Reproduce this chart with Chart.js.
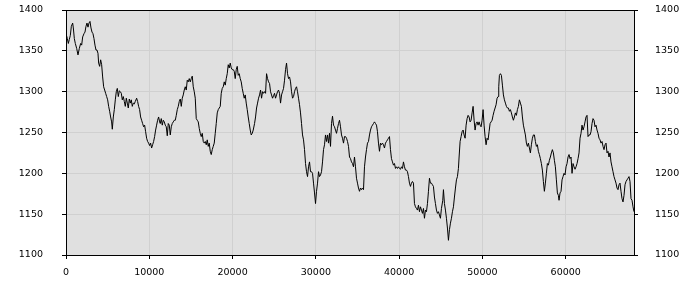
<!DOCTYPE html>
<html lang="en">
<head>
    <meta charset="UTF-8">
    <title>Price history</title>
    <script src="https://cdn.jsdelivr.net/npm/chart.js"></script>
    <style>
        html, body { margin: 0; padding: 0; background: #fff; }
        #wrap { width: 700px; height: 300px; }
    </style>
</head>
<body>
    <div id="wrap"><canvas id="priceChart"></canvas></div>

    <script>
        // x positions of the samples
        const xValues = [
            0,160,280,400,520,640,800,880,1000,1120,1280,1440,1600,1760,1880,2000,2160,2280,2400,2520,2640,2760,2880,3000,3120,3240,3360,3480,3600,3720,3840,3920,4040,4160,4280,4400,4520,4640,4760,4880,5000,5120,5240,5360,5480,5560,5680,5800,5920,6040,6160,6280,6400,6520,6640,6760,6880,7000,7120,7240,7360,7480,7600,7720,7840,7960,8080,8200,8320,8480,8600,8720,8840,8960,9080,9200,9320,9440,9560,9680,9800,9920,10040,10160,10280,10400,10520,10640,10760,10880,11000,11120,11240,
            11320,11440,11560,11680,11800,11920,12040,12160,12280,12400,12520,12640,12760,12880,13000,13120,13240,13360,13480,13600,13720,13840,13960,14080,14200,14320,14440,14560,14680,14800,14920,15040,15160,15280,15400,15520,15640,15760,15880,16000,16120,16240,16360,16480,16600,16720,16840,16960,17080,17200,17320,17440,17560,17680,17800,17920,18040,18160,18280,18400,18520,18640,18760,18880,19000,19120,19240,19360,19480,19600,19720,19840,19960,20080,20200,20320,20440,20560,20680,20800,20920,21040,21160,21280,21400,21520,21640,21760,21880,22000,22120,22240,22360,22480,
            22640,22760,22880,23000,23120,23240,23360,23480,23600,23720,23840,23960,24080,24200,24320,24440,24560,24680,24800,24920,25040,25160,25280,25400,25520,25640,25760,25880,26000,26120,26240,26360,26480,26600,26720,26840,26960,27080,27200,27320,27440,27560,27680,27800,27920,28040,28160,28280,28400,28520,28640,28760,28880,29000,29120,29240,29360,29480,29600,29720,29840,29960,30080,30200,30320,30440,30560,30680,30800,30920,31040,31160,31280,31400,31520,31640,31760,31880,32000,32120,32240,32360,32480,32600,32720,32840,32960,33080,33200,33320,33440,33560,33680,33800,
            33920,34040,34160,34280,34400,34520,34640,34760,34880,35000,35120,35240,35360,35480,35600,35720,35840,35960,36080,36200,36320,36440,36560,36680,36800,36920,37040,37160,37280,37400,37520,37640,37760,37880,38000,38120,38240,38360,38480,38600,38720,38840,38960,39080,39200,39320,39440,39560,39680,39800,39920,40040,40160,40280,40400,40520,40640,40760,40880,41000,41120,41240,41360,41480,41600,41720,41840,41960,42080,42200,42320,42440,42560,42680,42800,42920,43040,43160,43280,43400,43520,43640,43760,43880,44000,44120,44240,44360,44480,44600,44720,44840,44960,45080,
            45240,45320,45440,45560,45680,45800,45920,46040,46160,46280,46400,46520,46640,46760,46880,47000,47120,47200,47320,47440,47560,47680,47800,47920,48040,48160,48280,48400,48520,48640,48760,48880,49000,49120,49240,49360,49480,49600,49720,49840,49960,50080,50200,50320,50440,50560,50680,50800,50920,51040,51160,51280,51400,51520,51640,51760,51880,51960,52040,52160,52280,52400,52520,52640,52760,52880,53000,53120,53240,53360,53480,53600,53720,53840,53960,54080,54200,54320,54440,54560,54680,54800,54920,55040,55160,55280,55400,55520,55640,55760,55880,56000,56120,56240,56360,
            56480,56600,56720,56840,56960,57080,57200,57320,57440,57560,57680,57800,57920,58040,58160,58280,58400,58520,58640,58760,58880,59000,59120,59200,59320,59440,59560,59680,59800,59920,60040,60160,60280,60400,60520,60640,60760,60880,61000,61120,61240,61360,61480,61600,61720,61840,61960,62080,62200,62320,62440,62560,62680,62800,62920,63040,63160,63280,63400,63520,63640,63760,63880,64000,64120,64240,64360,64480,64600,64720,64840,64960,65080,65200,65320,65440,65560,65680,65800,65920,66040,66160,66280,66400,66520,66640,66760,66880,67000,67120,67240,67360,67480,67600,67720,67840,67960,68080,68200
        ];

        const prices = [
            1371,1365,1359,1364,1369,1380,1384,1378,1365,1359,1353,1345,1353,1359,1357,1367,1371,1373,1380,1384,1379,1384,1386,1378,1373,1371,1365,1357,1351,1351,1347,1335,1331,1339,1333,1318,1306,1302,1298,1294,1290,1282,1276,1269,1263,1254,1269,1278,1290,1300,1304,1294,1301,1300,1298,1290,1294,1288,1282,1292,1286,1280,1291,1286,1290,1282,1286,1285,1288,1292,1288,1282,1278,1269,1265,1261,1257,1259,1251,1243,1239,1237,1234,1237,1231,1235,1239,1245,1253,1259,1265,1269,1263,
            1261,1267,1259,1265,1263,1259,1257,1246,1261,1259,1247,1257,1261,1263,1265,1265,1271,1278,1282,1288,1291,1282,1292,1296,1302,1306,1302,1314,1312,1316,1312,1316,1319,1306,1300,1292,1267,1265,1263,1255,1249,1245,1249,1239,1237,1239,1235,1241,1233,1237,1227,1223,1229,1233,1237,1249,1261,1274,1278,1280,1282,1298,1304,1306,1312,1308,1316,1322,1333,1329,1335,1329,1327,1327,1325,1316,1327,1331,1320,1322,1316,1312,1304,1298,1292,1296,1286,1278,1269,1261,1253,1247,1249,1253,
            1261,1269,1280,1286,1292,1296,1302,1292,1300,1298,1300,1298,1322,1316,1312,1310,1300,1296,1292,1295,1298,1292,1296,1300,1302,1298,1286,1296,1300,1304,1314,1327,1335,1322,1316,1318,1312,1300,1292,1294,1300,1304,1306,1300,1292,1284,1274,1261,1247,1241,1229,1212,1202,1196,1208,1214,1202,1202,1200,1188,1176,1163,1178,1188,1202,1196,1198,1202,1214,1229,1235,1247,1239,1247,1237,1249,1233,1261,1270,1259,1257,1253,1249,1255,1261,1265,1257,1247,1243,1237,1245,1245,1243,1239,
            1233,1220,1218,1214,1212,1208,1220,1208,1194,1188,1182,1178,1182,1180,1182,1180,1208,1220,1229,1237,1239,1247,1253,1257,1259,1261,1263,1261,1259,1251,1237,1227,1237,1235,1237,1235,1231,1237,1239,1241,1243,1245,1229,1218,1214,1210,1212,1206,1208,1206,1208,1206,1205,1208,1206,1214,1208,1204,1204,1202,1196,1188,1184,1188,1190,1188,1163,1159,1157,1155,1161,1153,1159,1155,1151,1157,1145,1155,1153,1163,1178,1194,1188,1188,1186,1184,1171,1163,1155,1151,1153,1149,1145,1157,
            1167,1180,1163,1155,1145,1133,1118,1131,1139,1145,1153,1159,1171,1182,1192,1196,1206,1220,1239,1245,1251,1253,1247,1243,1259,1267,1271,1269,1263,1265,1274,1282,1265,1253,1261,1263,1259,1263,1259,1257,1265,1278,1259,1245,1235,1243,1241,1251,1261,1263,1265,1271,1276,1280,1284,1292,1294,1306,1320,1322,1320,1308,1296,1290,1286,1282,1280,1280,1276,1278,1274,1269,1265,1269,1274,1271,1278,1282,1290,1286,1282,1269,1259,1253,1247,1237,1233,1237,1231,1225,1235,1243,1247,1247,1239,
            1233,1235,1227,1223,1218,1212,1204,1190,1178,1188,1200,1212,1210,1216,1220,1225,1229,1225,1216,1208,1192,1176,1173,1167,1176,1178,1192,1196,1200,1198,1208,1212,1220,1223,1218,1220,1200,1212,1208,1205,1208,1212,1218,1225,1243,1249,1259,1253,1257,1263,1269,1271,1245,1247,1247,1251,1261,1267,1265,1257,1259,1253,1249,1243,1241,1237,1239,1233,1229,1235,1237,1225,1227,1220,1225,1214,1208,1202,1196,1192,1188,1182,1180,1186,1188,1178,1169,1165,1173,1186,1190,1192,1194,1196,1190,1169,1167,1159,1153
        ];

        const xTicks = [0, 10000, 20000, 30000, 40000, 50000, 60000];
        const yTicks = [1100, 1150, 1200, 1250, 1300, 1350, 1400];
        const xMax = 68200;

        const points = xValues.map((x, i) => ({ x: x, y: prices[i] }));

        // grey plot background and black frame round the plot area
        const framePlugin = {
            id: 'frame',
            beforeDraw(chart) {
                const { ctx, chartArea: a } = chart;
                ctx.save();
                ctx.fillStyle = '#e0e0e0';
                ctx.fillRect(a.left, a.top, a.right - a.left, a.bottom - a.top);
                ctx.restore();
            },
            afterDraw(chart) {
                const { ctx, chartArea: a } = chart;
                ctx.save();
                ctx.strokeStyle = '#000';
                ctx.lineWidth = 1;
                ctx.strokeRect(Math.floor(a.left) + 0.5, Math.floor(a.top) + 0.5,
                    Math.round(a.right - a.left), Math.round(a.bottom - a.top));
                ctx.restore();
            }
        };

        const tickFont = { family: 'DejaVu Sans', size: 9.5 };
        const plain = v => String(v);

        // fixed side width; stop the tick padding from pushing the plot down
        const fitSide = s => {
            s.width = 66;
            s.paddingTop = 10;
            s.paddingBottom = 0;
        };

        new Chart(document.getElementById('priceChart'), {
            type: 'line',
            data: {
                datasets: [{
                    data: points,
                    borderColor: '#000',
                    borderWidth: 1,
                    pointRadius: 0,
                    tension: 0,
                    fill: false
                }]
            },
            options: {
                responsive: true,
                maintainAspectRatio: false,
                animation: false,
                events: [],
                layout: { padding: { top: 10 } },
                plugins: {
                    legend: { display: false },
                    tooltip: { enabled: false }
                },
                scales: {
                    x: {
                        type: 'linear',
                        min: 0,
                        max: xMax,
                        afterBuildTicks: s => { s.ticks = xTicks.map(v => ({ value: v })); },
                        afterFit: s => { s.height = 45; },
                        grid: { color: '#d0d0d0', tickColor: '#000', tickLength: 4 },
                        border: { display: false },
                        ticks: { color: '#000', font: tickFont, padding: 8, maxRotation: 0, callback: plain }
                    },
                    y: {
                        position: 'left',
                        min: 1100,
                        max: 1400,
                        afterBuildTicks: s => { s.ticks = yTicks.map(v => ({ value: v })); },
                        afterFit: fitSide,
                        grid: { color: '#d0d0d0', tickColor: '#000', tickLength: 4 },
                        border: { display: false },
                        ticks: { color: '#000', font: tickFont, padding: 19, callback: plain }
                    },
                    y2: {
                        position: 'right',
                        display: true,
                        min: 1100,
                        max: 1400,
                        afterBuildTicks: s => { s.ticks = yTicks.map(v => ({ value: v })); },
                        afterFit: fitSide,
                        grid: { drawOnChartArea: false, tickColor: '#000', tickLength: 4 },
                        border: { display: false },
                        ticks: { color: '#000', font: tickFont, padding: 17, callback: plain }
                    }
                }
            },
            plugins: [framePlugin]
        });
    </script>
</body>
</html>
